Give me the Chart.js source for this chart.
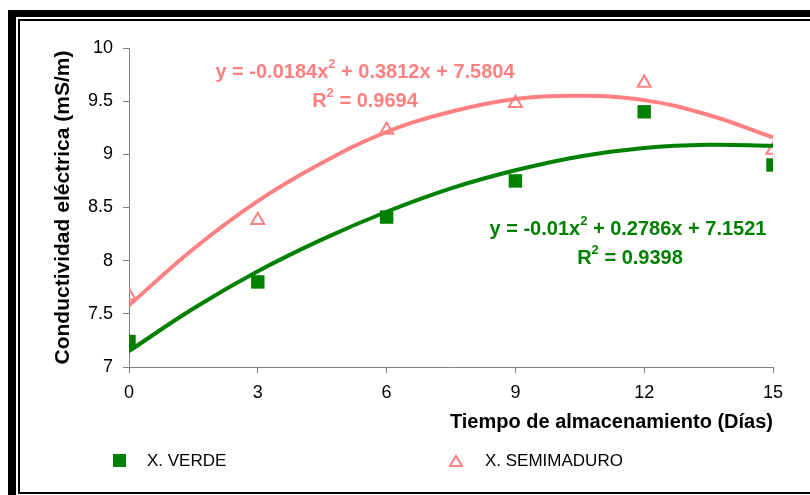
<!DOCTYPE html>
<html>
<head>
<meta charset="utf-8">
<script src="https://cdn.jsdelivr.net/npm/chart.js@4"></script>
<style>
  html, body { margin: 0; padding: 0; background: #fff; overflow: hidden; }
  #wrap { position: relative; width: 810px; height: 495px; }
  .frameOuter { position: absolute; left: 8px; top: 10px; width: 900px; height: 600px;
    border-left: 8px solid #000; border-top: 7px solid #000; }
  .frameInner { position: absolute; left: 18px; top: 19px; width: 900px; height: 471px;
    border: 2px solid #000; border-right: none; }
  canvas { position: absolute; left: 0; top: 0; }
</style>
</head>
<body>
<div id="wrap">
  <div class="frameOuter"></div>
  <div class="frameInner"></div>
  <canvas id="chart" width="810" height="495"></canvas>
</div>
<script>
// datos
const dias = [0, 3, 6, 9, 12, 15];
const verde = [7.24, 7.8, 8.41, 8.75, 9.4, 8.9];
const semimaduro = [7.67, 8.38, 9.23, 9.48, 9.67, 9.04];

// líneas de tendencia
const diasTendencia = [0, 1.5, 3, 4.5, 6, 7.5, 9, 10.5, 12, 13.5, 15];
const tendVerde = [7.15, 7.55, 7.90, 8.20, 8.46, 8.68, 8.85, 8.98, 9.06, 9.09, 9.08];
const tendSemi = [7.58, 8.11, 8.56, 8.92, 9.21, 9.40, 9.52, 9.55, 9.51, 9.37, 9.16];

const yTicks = [7, 7.5, 8, 8.5, 9, 9.5, 10];
const xTicks = [0, 3, 6, 9, 12, 15];

const VERDE = '#008000';
const ROSA = '#FF8080';
const GRIS = '#808080';
const FUENTE = '"Liberation Sans", Arial, sans-serif';

const pts = (xs, ys) => xs.map((x, i) => ({ x: x, y: ys[i] }));

// ecuaciones y leyenda dibujadas a mano
const textos = {
  id: 'textos',
  afterDraw(chart) {
    const ctx = chart.ctx;
    ctx.save();
    ctx.textBaseline = 'middle';
    const normal = 'bold 20px ' + FUENTE;
    const sup = 'bold 13px ' + FUENTE;
    function ecuacion(partes, cx, cy, color) {
      let w = 0;
      partes.forEach(p => {
        ctx.font = p.sup ? sup : normal;
        w += ctx.measureText(p.t).width;
      });
      let x = cx - w / 2;
      ctx.fillStyle = color;
      ctx.textAlign = 'left';
      partes.forEach(p => {
        ctx.font = p.sup ? sup : normal;
        ctx.fillText(p.t, x, p.sup ? cy - 8 : cy);
        x += ctx.measureText(p.t).width;
      });
    }
    ecuacion([{ t: 'y = -0.0184x' }, { t: '2', sup: true }, { t: ' + 0.3812x + 7.5804' }], 365, 72, ROSA);
    ecuacion([{ t: 'R' }, { t: '2', sup: true }, { t: ' = 0.9694' }], 365, 101, ROSA);
    ecuacion([{ t: 'y = -0.01x' }, { t: '2', sup: true }, { t: ' + 0.2786x + 7.1521' }], 628, 229, VERDE);
    ecuacion([{ t: 'R' }, { t: '2', sup: true }, { t: ' = 0.9398' }], 630, 258, VERDE);

    // leyenda
    ctx.fillStyle = VERDE;
    ctx.fillRect(113, 454, 13, 13);
    ctx.strokeStyle = ROSA;
    ctx.lineWidth = 2;
    ctx.beginPath();
    ctx.moveTo(456, 456);
    ctx.lineTo(462, 466);
    ctx.lineTo(450, 466);
    ctx.closePath();
    ctx.stroke();
    ctx.fillStyle = '#000';
    ctx.font = '17px ' + FUENTE;
    ctx.textAlign = 'left';
    ctx.fillText('X. VERDE', 147, 461);
    ctx.fillText('X. SEMIMADURO', 485, 461);
    ctx.restore();
  }
};

new Chart(document.getElementById('chart'), {
  type: 'scatter',
  data: {
    datasets: [
      {
        label: 'X. VERDE',
        data: pts(dias, verde),
        pointStyle: 'rect',
        pointRadius: 9.5,
        backgroundColor: VERDE,
        borderColor: VERDE,
        borderWidth: 0,
        order: 2
      },
      {
        label: 'X. SEMIMADURO',
        data: pts(dias, semimaduro),
        pointStyle: 'triangle',
        pointRadius: 7.5,
        backgroundColor: 'rgba(255,255,255,0)',
        borderColor: ROSA,
        borderWidth: 2,
        order: 2
      },
      {
        label: 'Tendencia verde',
        data: pts(diasTendencia, tendVerde),
        showLine: true,
        pointRadius: 0,
        borderColor: VERDE,
        borderWidth: 4,
        tension: 0.4,
        order: 1
      },
      {
        label: 'Tendencia semimaduro',
        data: pts(diasTendencia, tendSemi),
        showLine: true,
        pointRadius: 0,
        borderColor: ROSA,
        borderWidth: 4,
        tension: 0.4,
        order: 1
      }
    ]
  },
  options: {
    responsive: false,
    animation: false,
    layout: { padding: { top: 48, right: 37, left: 0, bottom: 0 } },
    plugins: { legend: { display: false }, tooltip: { enabled: false } },
    scales: {
      x: {
        type: 'linear',
        min: 0,
        max: 15,
        afterBuildTicks: s => { s.ticks = xTicks.map(v => ({ value: v })); },
        afterFit: s => { s.height = 128; },
        grid: { drawOnChartArea: false, color: GRIS, tickLength: 6 },
        border: { color: GRIS, width: 1 },
        ticks: { color: '#000', padding: 9, font: { family: FUENTE, size: 18 } },
        title: {
          display: true,
          text: 'Tiempo de almacenamiento (Días)',
          align: 'end',
          color: '#000',
          padding: { top: 0, bottom: 61 },
          font: { family: FUENTE, size: 20, weight: 'bold' }
        }
      },
      y: {
        min: 7,
        max: 10,
        afterBuildTicks: s => { s.ticks = yTicks.map(v => ({ value: v })); },
        afterFit: s => { s.width = 129; },
        grid: { drawOnChartArea: false, color: GRIS, tickLength: 6 },
        border: { color: GRIS, width: 1 },
        ticks: {
          color: '#000',
          padding: 10,
          font: { family: FUENTE, size: 18 },
          callback: v => String(v)
        },
        title: {
          display: true,
          text: 'Conductividad eléctrica (mS/m)',
          color: '#000',
          padding: { top: 51, bottom: 0 },
          font: { family: FUENTE, size: 21, weight: 'bold' }
        }
      }
    }
  },
  plugins: [textos]
});
</script>
</body>
</html>
